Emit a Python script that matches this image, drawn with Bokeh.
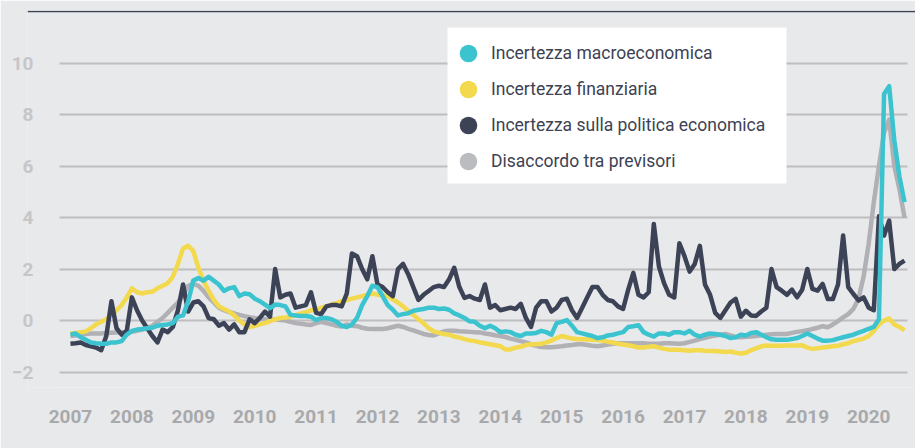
from bokeh.plotting import figure
from bokeh.models import (ColumnDataSource, FixedTicker, Legend, LegendItem,
                          Span, BoxAnnotation)
from bokeh.embed import file_html
from bokeh.resources import INLINE

# ---------------- data (monthly, Jan 2007 - Aug 2020) ----------------
start_year = 2007
year_ticks = list(range(2007, 2021))
y_ticks = [-2, 0, 2, 4, 6, 8, 10]

series_names = ["Incertezza macroeconomica", "Incertezza finanziaria",
                "Incertezza sulla politica economica", "Disaccordo tra previsori"]

macro = [
    -0.55, -0.5, -0.65, -0.75, -0.85, -0.88, -0.9, -0.9, -0.85, -0.85,
    -0.8, -0.55, -0.4, -0.35, -0.33, -0.3, -0.28, -0.2, -0.17, -0.15,
    -0.1, 0.15, 0.2, 0.75, 1.55, 1.65, 1.55, 1.7, 1.55, 1.4,
    1.15, 1.25, 1.3, 0.95, 1.05, 1.02, 0.85, 0.75, 0.62, 0.48,
    0.62, 0.6, 0.55, 0.22, 0.2, 0.18, 0.18, 0.15, 0.02, 0.1,
    0.1, 0.05, -0.05, -0.2, -0.25, -0.15, 0.1, 0.6, 0.95, 1.35,
    1.3, 0.95, 0.6, 0.42, 0.2, 0.25, 0.28, 0.38, 0.42, 0.45,
    0.5, 0.5, 0.45, 0.47, 0.42, 0.28, 0.2, 0.1, -0.03, -0.05,
    -0.2, -0.3, -0.2, -0.3, -0.45, -0.42, -0.45, -0.55, -0.6, -0.5,
    -0.5, -0.48, -0.4, -0.45, -0.55, -0.1, -0.05, 0.02, -0.2, -0.45,
    -0.5, -0.55, -0.6, -0.68, -0.65, -0.58, -0.55, -0.5, -0.45, -0.25,
    -0.22, -0.18, -0.45, -0.55, -0.62, -0.5, -0.5, -0.55, -0.45, -0.45,
    -0.5, -0.4, -0.55, -0.62, -0.55, -0.5, -0.52, -0.55, -0.6, -0.68,
    -0.65, -0.55, -0.58, -0.48, -0.45, -0.55, -0.65, -0.73, -0.75, -0.75,
    -0.75, -0.72, -0.68, -0.6, -0.5, -0.6, -0.7, -0.78, -0.78, -0.76,
    -0.7, -0.65, -0.6, -0.55, -0.47, -0.4, -0.32, -0.25, 0.05, 8.8,
    9.1, 7.0, 5.6, 4.6,
]

financial = [
    -0.5, -0.48, -0.45, -0.42, -0.3, -0.15, -0.05, 0.05, 0.2, 0.4,
    0.6, 0.9, 1.25, 1.1, 1.05, 1.1, 1.12, 1.25, 1.35, 1.45,
    1.7, 2.2, 2.8, 2.9, 2.7, 2.05, 1.55, 1.15, 0.8, 0.55,
    0.45, 0.35, 0.2, 0.0, -0.15, -0.25, -0.2, -0.15, -0.1, -0.02,
    0.05, 0.1, 0.12, 0.15, 0.2, 0.28, 0.32, 0.4, 0.42, 0.5,
    0.55, 0.62, 0.68, 0.75, 0.8, 0.85, 0.9, 0.95, 1.0, 1.05,
    1.0, 0.98, 0.95, 0.82, 0.7, 0.55, 0.38, 0.22, 0.05, -0.1,
    -0.3, -0.42, -0.48, -0.52, -0.55, -0.62, -0.66, -0.72, -0.77, -0.8,
    -0.85, -0.88, -0.92, -0.96, -1.0, -1.12, -1.12, -1.05, -1.02, -0.95,
    -0.92, -0.92, -0.9, -0.85, -0.78, -0.68, -0.6, -0.65, -0.7, -0.72,
    -0.73, -0.74, -0.75, -0.76, -0.78, -0.82, -0.85, -0.9, -0.93, -0.96,
    -1.0, -1.05, -1.05, -1.02, -1.0, -1.05, -1.1, -1.13, -1.13, -1.13,
    -1.15, -1.17, -1.15, -1.15, -1.17, -1.18, -1.18, -1.2, -1.22, -1.2,
    -1.25, -1.28, -1.25, -1.15, -1.08, -1.0, -0.97, -0.98, -0.98, -0.98,
    -0.97, -0.97, -0.97, -0.96, -1.05, -1.1, -1.08, -1.05, -1.03, -1.0,
    -0.98, -0.92, -0.88, -0.8, -0.75, -0.7, -0.6, -0.4, -0.15, 0.0,
    0.08, -0.15, -0.25, -0.38,
]

policy = [
    -0.9, -0.88, -0.85, -0.95, -1.0, -1.05, -1.15, -0.6, 0.75, -0.3,
    -0.55, -0.4, 0.9, 0.4, 0.0, -0.3, -0.6, -0.85, -0.35, -0.45,
    -0.25, 0.4, 1.4, 0.35, 0.7, 0.75, 0.55, 0.1, 0.05, -0.2,
    -0.1, -0.35, -0.15, -0.45, -0.45, 0.05, -0.1, 0.1, 0.35, 0.15,
    2.0, 0.9, 1.0, 1.05, 0.5, 0.55, 0.6, 1.1, 0.3, 0.25,
    0.55, 0.6, 0.6, 0.55, 1.05, 2.6, 2.5, 2.0, 1.6, 2.5,
    1.4, 1.3, 1.1, 0.95, 2.0, 2.2, 1.8, 1.3, 0.8, 1.0,
    1.15, 1.3, 1.35, 1.3, 1.6, 2.05, 1.3, 0.88, 0.95, 0.85,
    0.8, 1.4, 0.5, 0.6, 0.4, 0.45, 0.5, 0.45, 0.65, 0.1,
    -0.25, 0.5, 0.75, 0.75, 0.35, 0.5, 0.8, 0.85, 0.4, 0.1,
    0.5, 0.9, 1.3, 1.3, 1.0, 0.8, 0.75, 0.55, 0.45, 1.2,
    1.85, 1.0, 0.9, 1.1, 3.75, 2.1, 1.45, 1.0, 0.9, 3.0,
    2.5, 1.9, 2.2, 2.9, 1.4, 1.0, 0.3, 0.1, 0.4, 0.7,
    0.84, 0.15, 0.38, 0.2, 0.18, 0.35, 0.5, 2.0, 1.3, 1.16,
    1.0, 1.2, 0.9, 1.2, 2.0, 1.23, 1.16, 1.42, 0.84, 0.84,
    1.4, 3.3, 1.3, 1.03, 0.78, 0.9, 0.5, 0.4, 4.05, 3.3,
    3.88, 2.0, 2.2, 2.33,
]

disagreement = [
    -0.6, -0.58, -0.55, -0.52, -0.5, -0.5, -0.5, -0.48, -0.47, -0.46,
    -0.45, -0.45, -0.44, -0.4, -0.35, -0.3, -0.2, -0.05, 0.1, 0.3,
    0.5, 0.7, 1.0, 1.35, 1.42, 1.35, 1.15, 0.9, 0.7, 0.5,
    0.4, 0.33, 0.28, 0.22, 0.17, 0.13, 0.1, 0.08, 0.05, 0.02,
    0.05, 0.02, 0.0, -0.05, -0.1, -0.12, -0.15, -0.17, -0.1, -0.05,
    -0.1, -0.15, -0.2, -0.23, -0.15, -0.2, -0.22, -0.28, -0.32, -0.33,
    -0.33, -0.33, -0.3, -0.25, -0.2, -0.25, -0.32, -0.38, -0.45, -0.52,
    -0.56, -0.58, -0.5, -0.42, -0.4, -0.4, -0.42, -0.43, -0.44, -0.45,
    -0.46, -0.5, -0.53, -0.57, -0.6, -0.64, -0.7, -0.75, -0.8, -0.85,
    -0.92, -0.98, -1.03, -1.04, -1.04, -1.02, -1.0, -0.97, -0.95, -0.92,
    -0.92, -0.95, -0.98, -1.0, -0.97, -0.93, -0.9, -0.88, -0.88, -0.88,
    -0.88, -0.88, -0.88, -0.9, -0.9, -0.9, -0.88, -0.88, -0.89, -0.9,
    -0.88, -0.83, -0.78, -0.72, -0.67, -0.62, -0.58, -0.55, -0.52, -0.58,
    -0.64, -0.65, -0.63, -0.62, -0.6, -0.57, -0.55, -0.53, -0.52, -0.52,
    -0.52, -0.48, -0.44, -0.41, -0.38, -0.33, -0.28, -0.22, -0.26, -0.15,
    -0.02, 0.12, 0.25, 0.45, 0.85, 1.7, 3.0, 4.6, 6.0, 7.3,
    7.8, 6.0, 5.1, 4.0,
]

months = [start_year + i / 12 for i in range(len(macro))]

# ---------------- styling ----------------
BG = "#e8e9eb"
DARK = "#3d4254"
colors = {"macro": "#3bc4cf", "financial": "#f2d94e",
          "policy": "#3d4356", "disagreement": "#b1b1b5"}
legend_colors = {"macro": "#3bc4cf", "financial": "#f2d94e",
                 "policy": "#3d4356", "disagreement": "#bbbcc0"}

X0, X1 = 2006.3, 2020.762
Y0, Y1 = -2.6, 12.04
FRAME_L, FRAME_T, FRAME_W, FRAME_H = 27, 10, 888, 377
p = figure(width=915, height=448, x_range=(X0, X1), y_range=(Y0, Y1),
           output_backend="svg", toolbar_location=None,
           min_border_left=FRAME_L, min_border_right=0, min_border_top=FRAME_T,
           min_border_bottom=448 - FRAME_T - FRAME_H, background_fill_color=BG,
           border_fill_color=BG, outline_line_color=None)

def dx(px):
    return X0 + (px - FRAME_L) * (X1 - X0) / FRAME_W

def dy(py):
    return Y1 - (py - FRAME_T) * (Y1 - Y0) / FRAME_H

p.xgrid.visible = False
p.ygrid.ticker = FixedTicker(ticks=y_ticks)
p.ygrid.grid_line_color = "#bebec0"
p.ygrid.grid_line_width = 2

# axes
p.xaxis.ticker = FixedTicker(ticks=year_ticks)
p.yaxis.ticker = FixedTicker(ticks=y_ticks)
for ax in (p.xaxis[0], p.yaxis[0]):
    ax.axis_line_color = None
    ax.major_tick_line_color = None
    ax.minor_tick_line_color = None
    ax.major_tick_out = 0
    ax.major_tick_in = 0
    ax.major_label_text_font = "Roboto"
    ax.major_label_text_font_style = "bold"
    ax.major_label_text_font_size = "19px"
p.xaxis.major_label_text_color = "#a9a9ab"
p.xaxis.major_label_standoff = 22
p.yaxis.major_label_text_color = "#c6c6c8"
p.yaxis.major_label_standoff = -6

# covers so gridlines start/end like the original
p.add_layout(BoxAnnotation(right=dx(59), fill_color=BG, fill_alpha=1,
                           line_color=None, level="glyph"))
p.add_layout(BoxAnnotation(left=dx(907), fill_color=BG, fill_alpha=1,
                           line_color=None, level="glyph"))

p.add_layout(Span(location=12, dimension="width", line_color=DARK, line_width=1.5))

src = ColumnDataSource(dict(x=months, macro=macro, financial=financial,
                            policy=policy, disagreement=disagreement))

for key in ["disagreement", "financial", "policy", "macro"]:
    p.line("x", key, source=src, line_color=colors[key], line_width=4.5,
           line_join="round")

# white legend box
p.add_layout(BoxAnnotation(left=dx(447), right=dx(786), top=dy(27), bottom=dy(183),
                           fill_color="white", fill_alpha=1, line_color=None))

# legend with round dots (helper renderers that draw nothing in the plot)
nan = float("nan")
items = []
for name, key in zip(series_names, ["macro", "financial", "policy", "disagreement"]):
    r = p.scatter(x=[nan], y=[nan], marker="circle", fill_color=legend_colors[key],
                  line_color=None)
    items.append(LegendItem(label=name, renderers=[r]))

# two interleaved legends -> row pitch of 36 px with 18 px dots
GW = 44
PITCH = 36
first_center = 53
for k in range(2):
    sub = items[k::2]
    top_center = first_center + k * PITCH
    bottom_px = top_center + 2 * PITCH * (len(sub) - 1) + GW / 2
    legend = Legend(items=sub, location=(468 - GW // 2 - FRAME_L, FRAME_T + FRAME_H - bottom_px),
                    padding=0, spacing=2 * PITCH - GW, glyph_width=GW, glyph_height=GW,
                    label_height=GW, label_standoff=1,
                    label_text_font="Roboto",
                    label_text_font_size="17.5px", label_text_color=DARK,
                    background_fill_alpha=0, border_line_color=None, margin=0)
    p.add_layout(legend)

open("out.html", "w").write(file_html(p, INLINE))
